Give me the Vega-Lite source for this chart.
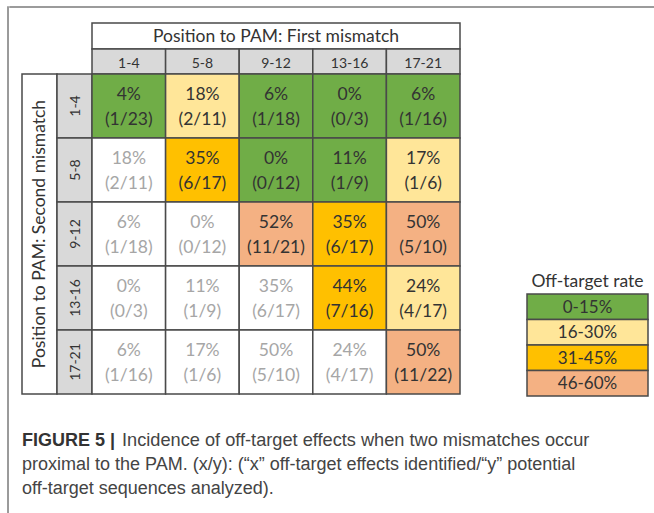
{
  "$schema": "https://vega.github.io/schema/vega-lite/v6.json",
  "padding": {"left": 7, "top": 6, "right": 0, "bottom": 0},
  "background": "white",
  "config": {
    "view": {"stroke": null},
    "concat": {"spacing": 0},
    "font": "Lato",
    "text": {"font": "Lato"}
  },
  "spacing": 0,
  "hconcat": [
    {"width": 0.01, "height": 507, "data": {"values": []}, "mark": "point", "encoding": {}, "view": {"stroke": "#7a7a7a", "strokeWidth": 1.5}},
    {"spacing": 14, "vconcat": [
      {"width": 647, "height": 0.01, "data": {"values": []}, "mark": "point", "encoding": {}, "view": {"stroke": "#7a7a7a", "strokeWidth": 1.5}},
      {"spacing": 10, "hconcat": [
        {"width": 0.01, "height": 1, "data": {"values": []}, "mark": "point", "encoding": {}},
        {"spacing": 32, "vconcat": [
          {"spacing": 65, "hconcat": [
            {"columns": 3, "spacing": 0, "bounds": "flush", "concat": [
              {"width": 35, "height": 26, "data": {"values": []}, "mark": "point", "encoding": {}},
              {"width": 35, "height": 26, "data": {"values": []}, "mark": "point", "encoding": {}},
              {
                "width": 368, "height": 26,
                "view": {"stroke": "#4a4a4a", "strokeWidth": 1.5, "fill": "white"},
                "data": {"values": [{"label": "Position to PAM: First mismatch"}]},
                "mark": {"type": "text", "fontSize": 17.5, "color": "#333333", "dy": 1},
                "encoding": {"text": {"field": "label"}}
              },
              {"width": 35, "height": 25, "data": {"values": []}, "mark": "point", "encoding": {}},
              {"width": 35, "height": 25, "data": {"values": []}, "mark": "point", "encoding": {}},
              {
                "width": 368, "height": 25,
                "data": {"values": [{"first": "1-4"}, {"first": "5-8"}, {"first": "9-12"}, {"first": "13-16"}, {"first": "17-21"}]},
                "encoding": {"x": {"field": "first", "type": "nominal", "scale": {"domain": ["1-4", "5-8", "9-12", "13-16", "17-21"], "paddingInner": 0, "paddingOuter": 0}, "axis": null}},
                "layer": [
                  {"mark": {"type": "rect", "fill": "#d9d9d9", "stroke": "#4a4a4a", "strokeWidth": 1.5}},
                  {"mark": {"type": "text", "fontSize": 14, "color": "#333333", "dy": 2}, "encoding": {"text": {"field": "first"}}}
                ]
              },
              {
                "width": 35, "height": 320,
                "view": {"stroke": "#4a4a4a", "strokeWidth": 1.5, "fill": "white"},
                "data": {"values": [{"label": "Position to PAM: Second mismatch"}]},
                "mark": {"type": "text", "angle": 270, "fontSize": 17.5, "color": "#333333"},
                "encoding": {"text": {"field": "label"}}
              },
              {
                "width": 35, "height": 320,
                "data": {"values": [{"second": "1-4"}, {"second": "5-8"}, {"second": "9-12"}, {"second": "13-16"}, {"second": "17-21"}]},
                "encoding": {"y": {"field": "second", "type": "nominal", "scale": {"domain": ["1-4", "5-8", "9-12", "13-16", "17-21"], "paddingInner": 0, "paddingOuter": 0}, "axis": null}},
                "layer": [
                  {"mark": {"type": "rect", "fill": "#d9d9d9", "stroke": "#4a4a4a", "strokeWidth": 1.5}},
                  {"mark": {"type": "text", "angle": 270, "fontSize": 14, "color": "#333333", "dy": 1.5}, "encoding": {"text": {"field": "second"}}}
                ]
              },
              {
                "width": 368, "height": 320,
                "data": {"values": [
                  {"first": "1-4", "second": "1-4", "pct": "4%", "frac": "(1/23)", "rate": "0-15%"},
                  {"first": "5-8", "second": "1-4", "pct": "18%", "frac": "(2/11)", "rate": "16-30%"},
                  {"first": "9-12", "second": "1-4", "pct": "6%", "frac": "(1/18)", "rate": "0-15%"},
                  {"first": "13-16", "second": "1-4", "pct": "0%", "frac": "(0/3)", "rate": "0-15%"},
                  {"first": "17-21", "second": "1-4", "pct": "6%", "frac": "(1/16)", "rate": "0-15%"},
                  {"first": "1-4", "second": "5-8", "pct": "18%", "frac": "(2/11)", "rate": "none"},
                  {"first": "5-8", "second": "5-8", "pct": "35%", "frac": "(6/17)", "rate": "31-45%"},
                  {"first": "9-12", "second": "5-8", "pct": "0%", "frac": "(0/12)", "rate": "0-15%"},
                  {"first": "13-16", "second": "5-8", "pct": "11%", "frac": "(1/9)", "rate": "0-15%"},
                  {"first": "17-21", "second": "5-8", "pct": "17%", "frac": "(1/6)", "rate": "16-30%"},
                  {"first": "1-4", "second": "9-12", "pct": "6%", "frac": "(1/18)", "rate": "none"},
                  {"first": "5-8", "second": "9-12", "pct": "0%", "frac": "(0/12)", "rate": "none"},
                  {"first": "9-12", "second": "9-12", "pct": "52%", "frac": "(11/21)", "rate": "46-60%"},
                  {"first": "13-16", "second": "9-12", "pct": "35%", "frac": "(6/17)", "rate": "31-45%"},
                  {"first": "17-21", "second": "9-12", "pct": "50%", "frac": "(5/10)", "rate": "46-60%"},
                  {"first": "1-4", "second": "13-16", "pct": "0%", "frac": "(0/3)", "rate": "none"},
                  {"first": "5-8", "second": "13-16", "pct": "11%", "frac": "(1/9)", "rate": "none"},
                  {"first": "9-12", "second": "13-16", "pct": "35%", "frac": "(6/17)", "rate": "none"},
                  {"first": "13-16", "second": "13-16", "pct": "44%", "frac": "(7/16)", "rate": "31-45%"},
                  {"first": "17-21", "second": "13-16", "pct": "24%", "frac": "(4/17)", "rate": "16-30%"},
                  {"first": "1-4", "second": "17-21", "pct": "6%", "frac": "(1/16)", "rate": "none"},
                  {"first": "5-8", "second": "17-21", "pct": "17%", "frac": "(1/6)", "rate": "none"},
                  {"first": "9-12", "second": "17-21", "pct": "50%", "frac": "(5/10)", "rate": "none"},
                  {"first": "13-16", "second": "17-21", "pct": "24%", "frac": "(4/17)", "rate": "none"},
                  {"first": "17-21", "second": "17-21", "pct": "50%", "frac": "(11/22)", "rate": "46-60%"}
                ]},
                "encoding": {
                  "x": {"field": "first", "type": "nominal", "scale": {"domain": ["1-4", "5-8", "9-12", "13-16", "17-21"], "paddingInner": 0, "paddingOuter": 0}, "axis": null},
                  "y": {"field": "second", "type": "nominal", "scale": {"domain": ["1-4", "5-8", "9-12", "13-16", "17-21"], "paddingInner": 0, "paddingOuter": 0}, "axis": null}
                },
                "layer": [
                  {"mark": {"type": "rect", "stroke": "#4a4a4a", "strokeWidth": 1.5, "opacity": 1},
                   "encoding": {"fill": {"field": "rate", "type": "nominal", "scale": {"domain": ["0-15%", "16-30%", "31-45%", "46-60%", "none"], "range": ["#70ad47", "#ffe699", "#ffc000", "#f4b183", "#ffffff"]}, "legend": null}}},
                  {"mark": {"type": "text", "fontSize": 17.5, "dy": -11.5},
                   "encoding": {"text": {"field": "pct"}, "color": {"condition": {"test": "datum.rate === 'none'", "value": "#a6a6a6"}, "value": "#333333"}}},
                  {"mark": {"type": "text", "fontSize": 17.5, "dy": 13.5},
                   "encoding": {"text": {"field": "frac"}, "color": {"condition": {"test": "datum.rate === 'none'", "value": "#a6a6a6"}, "value": "#333333"}}}
                ]
              }
            ]},
            {"spacing": 0, "bounds": "flush", "vconcat": [
              {"width": 121, "height": 247, "data": {"values": []}, "mark": "point", "encoding": {}},
              {
                "width": 121, "height": 24,
                "data": {"values": [{"label": "Off-target rate"}]},
                "mark": {"type": "text", "fontSize": 17.5, "color": "#333333"},
                "encoding": {"text": {"field": "label"}}
              },
              {
                "width": 121, "height": 102,
                "data": {"values": [{"rate": "0-15%"}, {"rate": "16-30%"}, {"rate": "31-45%"}, {"rate": "46-60%"}]},
                "encoding": {"y": {"field": "rate", "type": "nominal", "scale": {"domain": ["0-15%", "16-30%", "31-45%", "46-60%"], "paddingInner": 0, "paddingOuter": 0}, "axis": null}},
                "layer": [
                  {"mark": {"type": "rect", "stroke": "#4a4a4a", "strokeWidth": 1.5},
                   "encoding": {"fill": {"field": "rate", "type": "nominal", "scale": {"domain": ["0-15%", "16-30%", "31-45%", "46-60%", "none"], "range": ["#70ad47", "#ffe699", "#ffc000", "#f4b183", "#ffffff"]}, "legend": null}}},
                  {"mark": {"type": "text", "fontSize": 17, "color": "#333333", "dy": 1}, "encoding": {"text": {"field": "rate"}}}
                ]
              }
            ]}
          ]},
          {
            "width": 620, "height": 72,
            "encoding": {
              "x": {"datum": "caption", "type": "nominal", "scale": {"type": "band", "paddingInner": 0, "paddingOuter": 0}, "bandPosition": 0, "axis": null},
              "y": {"field": "line", "type": "ordinal", "scale": {"domain": [1, 2, 3], "paddingInner": 0, "paddingOuter": 0}, "axis": null},
              "text": {"field": "text"}
            },
            "layer": [
              {"data": {"values": [{"line": 1, "text": "FIGURE 5 |"}]},
               "mark": {"type": "text", "font": "Liberation Sans", "fontWeight": "bold", "fontSize": 18, "align": "left", "color": "#333333"}},
              {"data": {"values": [{"line": 1, "text": "Incidence of off-target effects when two mismatches occur"}]},
               "mark": {"type": "text", "font": "Liberation Sans", "fontSize": 18.2, "align": "left", "color": "#444444", "dx": 100}},
              {"data": {"values": [
                 {"line": 2, "text": "proximal to the PAM. (x/y): (“x” off-target effects identified/“y” potential"},
                 {"line": 3, "text": "off-target sequences analyzed)."}
               ]},
               "mark": {"type": "text", "font": "Liberation Sans", "fontSize": 18, "align": "left", "color": "#444444"}}
            ]
          }
        ]}
      ]}
    ]}
  ]
}
